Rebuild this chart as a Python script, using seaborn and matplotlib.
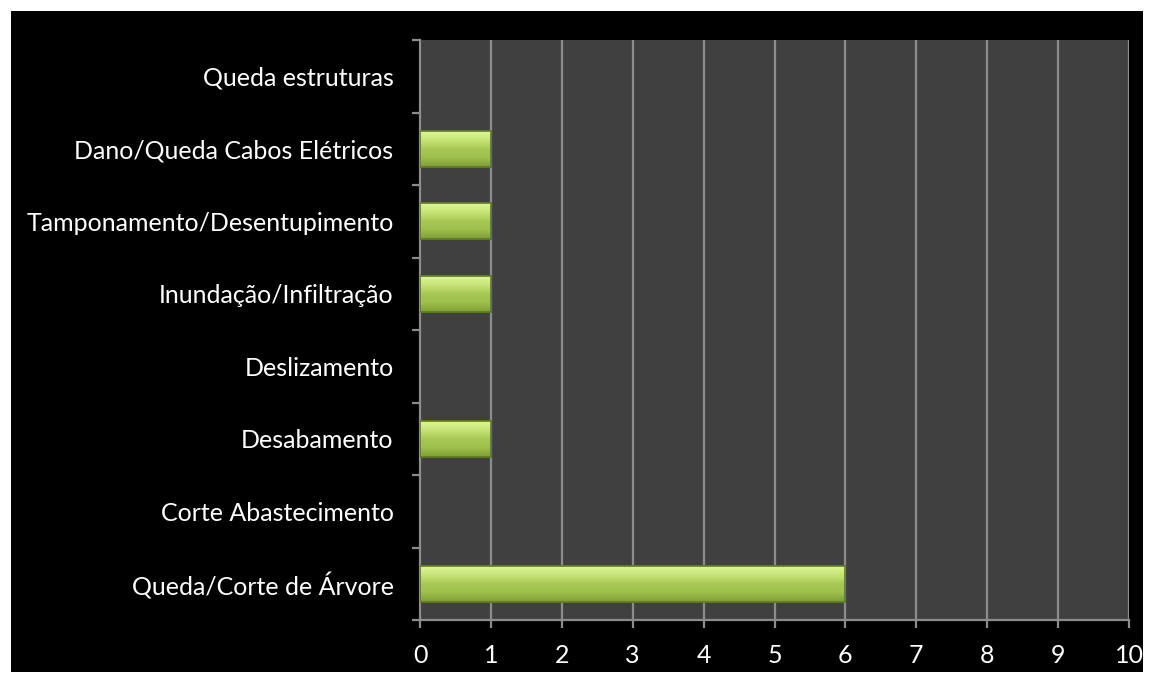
import matplotlib
matplotlib.use("Agg")
import matplotlib.pyplot as plt
import matplotlib.patches as mpatches
from matplotlib.colors import LinearSegmentedColormap
import seaborn as sns
import numpy as np

# data (top to bottom)
categories = [
    "Queda estruturas",
    "Dano/Queda Cabos Elétricos",
    "Tamponamento/Desentupimento",
    "Inundação/Infiltração",
    "Deslizamento",
    "Desabamento",
    "Corte Abastecimento",
    "Queda/Corte de Árvore",
]
values = [0, 1, 1, 1, 0, 1, 0, 6]
x_ticks = list(range(0, 11))

sns.set_style("dark")
plt.rcParams["font.family"] = ["Lato", "DejaVu Sans"]

fig = plt.figure(figsize=(11.53, 6.82), dpi=100, facecolor="white")
# black background panel inside white border
fig.patches.append(mpatches.Rectangle((11 / 1153, 10 / 682), 1132 / 1153, 661 / 682,
                                      transform=fig.transFigure, facecolor="black",
                                      edgecolor="none", zorder=-10))

ax = fig.add_axes([420 / 1153, 62 / 682, 709 / 1153, 580 / 682])
ax.set_facecolor("#404040")

sns.barplot(x=values, y=categories, orient="h", width=0.5, color="#9fc24f",
            edgecolor="#5f7a25", linewidth=1.2, saturation=1, ax=ax, zorder=3)

ax.set_xlim(0, 10)
ax.set_ylim(len(categories) - 0.5, -0.5)

# bevel-like gradient on bars (light on top, darker bottom)
grad = LinearSegmentedColormap.from_list(
    "bev", ["#e2f79a", "#c9e678", "#a8c955", "#9dbf4c", "#7f9f35"])
g = np.linspace(0, 1, 64).reshape(-1, 1)
for p in list(ax.patches):
    w = p.get_width()
    if w <= 0:
        p.set_visible(False)
        continue
    x0, y0 = p.get_x(), p.get_y()
    h = p.get_height()
    im = ax.imshow(g, cmap=grad, aspect="auto", origin="upper",
                   extent=(x0, x0 + w, y0 + h, y0), zorder=3.5)
    im.set_clip_path(p)
    ax.add_patch(mpatches.Rectangle((x0, y0), w, h, fill=False,
                                    edgecolor="#5f7a25", lw=1.2, zorder=4))
ax.set_xlim(0, 10)
ax.set_ylim(len(categories) - 0.5, -0.5)

ax.set_xticks(x_ticks)
ax.set_xticklabels([str(t) for t in x_ticks])
ax.set_xlabel("")
ax.set_ylabel("")

# gridlines
ax.grid(False)
for t in x_ticks[1:]:
    ax.axvline(t, color="#8c8c8c", lw=1.6, zorder=1)

for side in ["top", "right"]:
    ax.spines[side].set_visible(False)
for side in ["left", "bottom"]:
    ax.spines[side].set_color("#8c8c8c")
    ax.spines[side].set_linewidth(1.6)

ax.tick_params(axis="x", colors="white", labelsize=18, length=6, width=1.6,
               color="#8c8c8c", pad=11, bottom=True)
ax.tick_params(axis="y", colors="white", labelsize=18, length=0, pad=19, left=True)
ax.set_yticks(np.arange(-0.5, len(categories), 1), minor=True)
ax.tick_params(axis="y", which="minor", length=6, width=1.6, color="#8c8c8c", left=True)

plt.savefig("out.png", dpi=100, facecolor="white")
